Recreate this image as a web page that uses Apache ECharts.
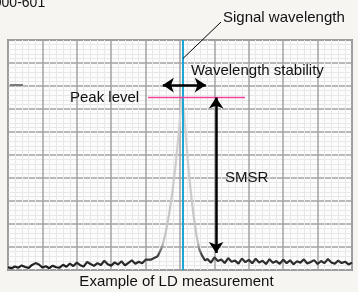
<!DOCTYPE html>
<html>
<head>
<meta charset="utf-8">
<script src="https://cdn.jsdelivr.net/npm/echarts@6/dist/echarts.min.js"></script>
<style>
  html, body { margin: 0; padding: 0; background: #f7f5f2; }
  #chart { width: 358px; height: 292px; }
</style>
</head>
<body>
<div id="chart"></div>
<script>
// spectrum trace, x in % of span, y in % of screen height
const wavelength = [
  0, 1, 2, 3, 4, 5, 6, 7, 8, 9, 10, 11, 12, 13, 14, 15, 16, 17, 18, 19, 20,
  21, 22, 23, 24, 25, 26, 27, 28, 29, 30, 31, 32, 33, 34, 35, 36, 37, 38, 39, 40,
  41.5, 43.5, 44.8, 45.8, 46.8, 47.7, 48.6, 49.4, 50.0, 50.6, 51.2, 51.8, 52.5,
  53.2, 54.0, 54.8, 55.6, 56.5, 57.3,
  58, 59, 60, 61, 62, 63, 64, 65, 66, 67, 68, 69, 70, 71, 72, 73, 74, 75, 76, 77,
  78, 79, 80, 81, 82, 83, 84, 85, 86, 87, 88, 89, 90, 91, 92, 93, 94, 95, 96, 97,
  98, 99, 100,
];
const level = [
  1.2, 0.8, 1.5, 1.0, 2.0, 1.3, 0.9, 2.2, 3.0, 2.4, 1.1, 1.6, 0.8, 1.9, 1.2, 1.0, 2.3, 1.4, 2.8, 1.7, 3.2,
  2.1, 1.5, 3.5, 2.6, 1.8, 3.0, 2.2, 4.0, 2.5, 1.9, 3.3, 2.4, 3.8, 2.0, 3.1, 4.2, 2.7, 3.6, 2.9, 4.5,
  4.5, 6, 10, 16, 24, 33, 44, 56, 66, 75, 68, 56, 44,
  33, 23, 15, 9, 6, 4.2,
  4.8, 3.2, 5.5, 3.9, 4.6, 3.0, 5.2, 3.6, 4.1, 2.8, 5.0, 3.4, 4.4, 2.9, 4.9, 3.3, 4.0, 2.6, 4.7, 3.1,
  3.9, 2.7, 4.5, 3.0, 4.2, 2.5, 3.8, 3.2, 4.6, 2.8, 3.5, 4.3, 2.6, 3.9, 3.0, 4.8, 3.3, 2.7, 4.1, 3.0,
  3.6, 2.4, 3.2,
];

// annotation positions in the same units
const signalX = 50.9;
const peakLevel = 75;
const peakLineRange = [40.7, 68.9];
const stabilityY = 80.4;
const stabilityRange = [45, 57.5];
const smsrX = 60.5;
const smsrBottom = 7.4;

const chart = echarts.init(document.getElementById('chart'), null, { renderer: 'canvas' });

const textFont = { fontFamily: 'Liberation Sans, Arial, sans-serif', fontSize: 15, fill: '#111' };

const axisCommon = {
  type: 'value',
  min: 0,
  max: 100,
  interval: 10,
  axisLabel: { show: false },
  axisLine: { show: false },
  axisTick: { show: false },
  splitLine: { show: true, lineStyle: { color: '#a3a3a3', width: 1.5 } },
  minorTick: { show: false, splitNumber: 5 },
  minorSplitLine: { show: true, lineStyle: { color: '#e8e8e8', width: 1 } },
};

function markSeries(lines, style) {
  return {
    type: 'line',
    data: [],
    z: 3,
    markLine: {
      silent: true,
      animation: false,
      label: { show: false },
      symbol: style.symbol || 'none',
      symbolSize: 11,
      lineStyle: { color: style.color, width: style.width, type: 'solid', opacity: 1 },
      emphasis: { disabled: true },
      data: lines,
    },
  };
}

chart.setOption({
  backgroundColor: '#f7f5f2',
  animation: false,
  grid: {
    left: 8, right: 6, top: 40, bottom: 22,
    show: true, backgroundColor: '#fcfcfc', borderColor: '#8c8c8c', borderWidth: 2,
  },
  xAxis: { ...axisCommon },
  yAxis: { ...axisCommon },
  series: [
    {
      type: 'line',
      data: wavelength.map((x, i) => [x, level[i]]),
      showSymbol: false,
      lineStyle: {
        width: 2.2,
        color: new echarts.graphic.LinearGradient(0, 0, 0, 1, [
          { offset: 0, color: '#d6d6d6' },
          { offset: 0.84, color: '#c4c4c4' },
          { offset: 0.91, color: '#444' },
          { offset: 1, color: '#111' },
        ]),
      },
      z: 2,
    },
    markSeries([
      [{ coord: [signalX, 0] }, { coord: [signalX, 100] }],
    ], { color: '#1ba6d6', width: 2 }),
    markSeries([
      [{ coord: [peakLineRange[0], peakLevel] }, { coord: [peakLineRange[1], peakLevel] }],
    ], { color: '#f0459b', width: 1.3 }),
    markSeries([
      [{ coord: [stabilityRange[0], stabilityY] }, { coord: [stabilityRange[1], stabilityY] }],
      [{ coord: [smsrX, peakLevel] }, { coord: [smsrX, smsrBottom] }],
    ], { color: '#000', width: 2.5, symbol: 'arrow' }),
  ],
});

const leaderStart = chart.convertToPixel({ gridIndex: 0 }, [signalX, 92]);

chart.setOption({
  graphic: [
    { type: 'text', left: -14, top: -4, style: { ...textFont, fontSize: 14, text: '1000-601' } },
    { type: 'line', shape: { x1: leaderStart[0], y1: leaderStart[1], x2: 221, y2: 22 }, style: { stroke: '#000', lineWidth: 1 }, z: 10 },
    { type: 'line', shape: { x1: 10, y1: 85, x2: 23, y2: 85 }, style: { stroke: '#7a7a7a', lineWidth: 2 }, z: 10 },
    { type: 'text', x: 223, y: 17.5, style: { ...textFont, text: 'Signal wavelength', verticalAlign: 'middle' }, z: 10 },
    { type: 'text', x: 191, y: 70.5, style: { ...textFont, text: 'Wavelength stability', verticalAlign: 'middle' }, z: 10 },
    { type: 'text', x: 70, y: 98, style: { ...textFont, text: 'Peak level', verticalAlign: 'middle' }, z: 10 },
    { type: 'text', x: 225, y: 177.5, style: { ...textFont, text: 'SMSR', verticalAlign: 'middle' }, z: 10 },
    { type: 'text', x: 176.5, y: 282, style: { ...textFont, text: 'Example of LD measurement', align: 'center', verticalAlign: 'middle' }, z: 10 },
  ],
});
</script>
</body>
</html>
